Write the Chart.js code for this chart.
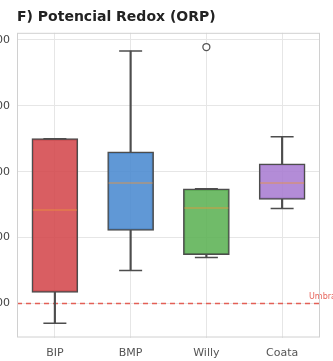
<!DOCTYPE html>
<html>
<head>
<meta charset="utf-8">
<script src="https://cdn.jsdelivr.net/npm/chart.js@4.4.1/dist/chart.umd.min.js"></script>
<style>
  html, body { margin: 0; padding: 0; background: #fff; overflow: hidden; }
  #wrap { position: absolute; left: -40px; top: 0; width: 403px; height: 361px; }
</style>
</head>
<body>
<div id="wrap"><canvas id="c"></canvas></div>
<script>
// ORP per site (mV): box statistics
const categories = ['BIP', 'BMP', 'Willy', 'Coata'];
const minVals    = [70, 150, 170, 244];
const q1Vals     = [117, 211, 174, 258];
const medianVals = [242, 283, 245, 283];
const q3Vals     = [350, 330, 274, 312];
const maxVals    = [350, 483, 274, 353];
const outlierVals = [null, null, 489, null];
const yTicks = [100, 200, 300, 400, 500];
const THRESHOLD = 100;
const thresholdLabel = 'Umbral (100 mV)';

const boxColors = [
  'rgba(212, 72, 76, 0.88)',
  'rgba(74, 138, 208, 0.88)',
  'rgba(92, 178, 84, 0.88)',
  'rgba(168, 124, 210, 0.88)'
];
const edge = '#4d4d4d';

// frame around the plot, threshold line and its label
const framePlugin = {
  id: 'frame',
  beforeDatasetsDraw(chart) {
    const { ctx, chartArea: a, scales } = chart;
    const y = scales.y.getPixelForValue(THRESHOLD);
    ctx.save();
    ctx.strokeStyle = 'rgba(226, 70, 60, 0.85)';
    ctx.lineWidth = 1.5;
    ctx.setLineDash([5, 4]);
    ctx.beginPath();
    ctx.moveTo(a.left, y);
    ctx.lineTo(a.right, y);
    ctx.stroke();
    ctx.setLineDash([]);
    ctx.fillStyle = 'rgba(226, 70, 60, 0.85)';
    ctx.font = '8px "DejaVu Sans"';
    ctx.textAlign = 'left';
    ctx.textBaseline = 'bottom';
    ctx.fillText(thresholdLabel, a.right - 11, y - 3);
    ctx.restore();
  },
  afterDraw(chart) {
    const { ctx, chartArea: a } = chart;
    ctx.save();
    ctx.strokeStyle = '#d0d0d0';
    ctx.lineWidth = 1;
    ctx.strokeRect(a.left + 0.5, a.top + 0.5, a.right - a.left - 1, a.bottom - a.top - 1);
    ctx.restore();
  }
};

const lowWhisker = categories.map((_, i) => [minVals[i], q1Vals[i]]);
const highWhisker = categories.map((_, i) => [q3Vals[i], maxVals[i]]);
const boxes = categories.map((_, i) => [q1Vals[i], q3Vals[i]]);

new Chart(document.getElementById('c'), {
  type: 'bar',
  data: {
    labels: categories,
    datasets: [
      { type: 'bar', data: lowWhisker, backgroundColor: edge, barThickness: 1.5, grouped: false, order: 4 },
      { type: 'bar', data: highWhisker, backgroundColor: edge, barThickness: 1.5, grouped: false, order: 4 },
      { type: 'bar', data: boxes, backgroundColor: boxColors, borderColor: edge, borderWidth: 1.5,
        borderSkipped: false, barThickness: 46, grouped: false, order: 3 },
      { type: 'line', data: minVals, showLine: false, pointStyle: 'line', pointRadius: 11.5,
        pointBorderWidth: 1.5, pointBorderColor: edge, order: 2 },
      { type: 'line', data: maxVals, showLine: false, pointStyle: 'line', pointRadius: 11.5,
        pointBorderWidth: 1.5, pointBorderColor: edge, order: 2 },
      { type: 'line', data: medianVals, showLine: false, pointStyle: 'line', pointRadius: 22,
        pointBorderWidth: 1.5, pointBorderColor: 'rgba(236, 150, 60, 0.55)', order: 1 },
      { type: 'line', data: outlierVals, showLine: false, pointStyle: 'circle', pointRadius: 3.5,
        pointBorderWidth: 1.3, pointBorderColor: '#555', pointBackgroundColor: '#fff', order: 0 }
    ]
  },
  options: {
    responsive: true,
    maintainAspectRatio: false,
    animation: false,
    layout: { padding: { left: 0, right: 43, top: 0, bottom: 0 } },
    plugins: {
      legend: { display: false },
      tooltip: { enabled: false },
      title: {
        display: true,
        text: 'F) Potencial Redox (ORP)',
        align: 'start',
        fullSize: false,
        color: '#222',
        font: { family: '"DejaVu Sans"', size: 14, weight: 'bold' },
        padding: { top: 9, bottom: 7 }
      }
    },
    scales: {
      x: {
        grid: { offset: false, color: '#e6e6e6', drawTicks: false },
        border: { display: false },
        ticks: { color: '#555', font: { family: '"DejaVu Sans"', size: 11 }, padding: 9 },
        afterFit(s) { s.height = 23; }
      },
      y: {
        min: 48.5,
        max: 510.6,
        grid: { color: '#e6e6e6', drawTicks: false },
        border: { display: false },
        ticks: { color: '#444', font: { family: '"DejaVu Sans"', size: 11 }, padding: 7 },
        afterBuildTicks(s) { s.ticks = yTicks.map(v => ({ value: v })); },
        afterFit(s) { s.width = 57; }
      }
    }
  },
  plugins: [framePlugin]
});
</script>
</body>
</html>
